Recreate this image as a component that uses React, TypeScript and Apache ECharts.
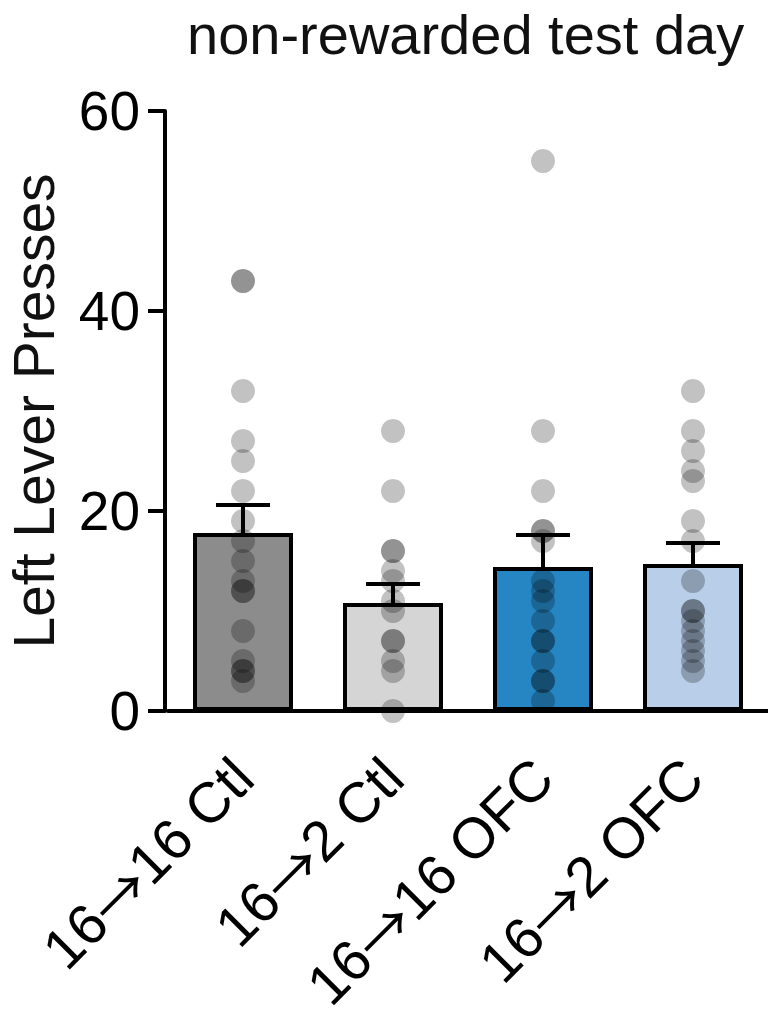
import React, { useEffect, useRef } from "react";
import * as echarts from "echarts";

const categories = ["16→16 Ctl", "16→2 Ctl", "16→16 OFC", "16→2 OFC"];
const means = [17.8, 10.8, 14.4, 14.7];
const sems = [2.8, 1.9, 3.2, 2.1];
const ctl16to16 = [43, 43, 32, 27, 25, 22, 19, 17, 15, 13, 12, 12, 8, 5, 4, 4, 3];
const ctl16to2 = [28, 22, 16, 16, 14, 13, 11, 10, 7, 7, 5, 4, 0];
const ofc16to16 = [55, 28, 22, 18, 18, 17, 13, 12, 11, 9, 7, 7, 5, 3, 3, 1];
const ofc16to2 = [32, 28, 26, 24, 23, 19, 17, 13, 10, 10, 9, 8, 7, 6, 5, 4];
const yTicks = [0, 20, 40, 60];
const barColors = ["#8c8c8c", "#d4d5d4", "#2686c4", "#b9cfe9"];
const titleText = "non-rewarded test day";
const yName = "Left Lever Presses";

const FONT = "'Liberation Sans', Arial, Helvetica, sans-serif";

export default function App() {
  const ref = useRef<HTMLDivElement>(null);
  useEffect(() => {
    if (!ref.current) return;
    const chart = echarts.init(ref.current, null, { renderer: "svg" });
    const groups = [ctl16to16, ctl16to2, ofc16to16, ofc16to2];
    const dots: number[][] = [];
    groups.forEach((g, i) => g.forEach((v) => dots.push([i, v])));
    chart.setOption({
      animation: false,
      textStyle: { fontFamily: FONT },
      title: {
        text: titleText,
        left: 182,
        top: 1,
        textStyle: { fontSize: 56, fontWeight: "normal", color: "#111", fontFamily: FONT },
      },
      grid: {
        left: 168,
        right: 0,
        top: 111,
        bottom: 311,
        containLabel: false,
        outerBoundsMode: "none",
      },
      xAxis: {
        type: "category",
        data: categories,
        axisLine: { lineStyle: { color: "#000", width: 4 } },
        axisTick: { alignWithLabel: true, length: 17, lineStyle: { color: "#000", width: 4 } },
        axisLabel: {
          rotate: 45,
          interval: 0,
          margin: 57,
          fontSize: 57,
          color: "#000",
          fontFamily: FONT,
          formatter: (v: string) => {
            const parts = v.split("→");
            return `{n|${parts[0]}}{a|→}{n|${parts[1]}}`;
          },
          rich: {
            n: { fontSize: 57, color: "#000", fontFamily: FONT },
            a: { fontSize: 57, color: "#000", fontFamily: "'Noto Sans CJK SC', 'DejaVu Sans', sans-serif" },
          },
        },
      },
      yAxis: {
        type: "value",
        min: yTicks[0],
        max: yTicks[yTicks.length - 1],
        interval: 20,
        offset: 3,
        name: yName,
        nameLocation: "middle",
        nameGap: 103,
        nameTextStyle: { fontSize: 57, color: "#111", fontFamily: FONT },
        axisLine: { show: true, lineStyle: { color: "#000", width: 4 } },
        axisTick: { show: true, length: 17, lineStyle: { color: "#000", width: 4 } },
        axisLabel: { fontSize: 55, color: "#000", margin: 25, fontFamily: FONT },
        splitLine: { show: false },
      },
      series: [
        {
          type: "bar",
          data: means.map((m, i) => ({ value: m, itemStyle: { color: barColors[i] } })),
          barWidth: 100,
          itemStyle: { borderColor: "#000", borderWidth: 4 },
          z: 2,
        },
        {
          type: "custom",
          data: means.map((m, i) => [i, m, sems[i]]),
          renderItem: (params: any, api: any) => {
            const x = api.value(0);
            const m = api.value(1);
            const s = api.value(2);
            const base = api.coord([x, m]);
            const top = api.coord([x, m + s]);
            const half = 27;
            return {
              type: "group",
              children: [
                { type: "line", shape: { x1: base[0], y1: base[1], x2: top[0], y2: top[1] }, style: { stroke: "#000", lineWidth: 4 } },
                { type: "line", shape: { x1: top[0] - half, y1: top[1], x2: top[0] + half, y2: top[1] }, style: { stroke: "#000", lineWidth: 4 } },
              ],
            };
          },
          z: 3,
        },
        {
          type: "scatter",
          data: dots,
          symbolSize: 24,
          itemStyle: { color: "rgba(0,0,0,0.3)" },
          z: 4,
        },
      ],
    });
    return () => chart.dispose();
  }, []);
  return (
    <div
      ref={ref}
      style={{ position: "fixed", left: 0, top: 0, width: 768, height: 1022, background: "#fff" }}
    />
  );
}
